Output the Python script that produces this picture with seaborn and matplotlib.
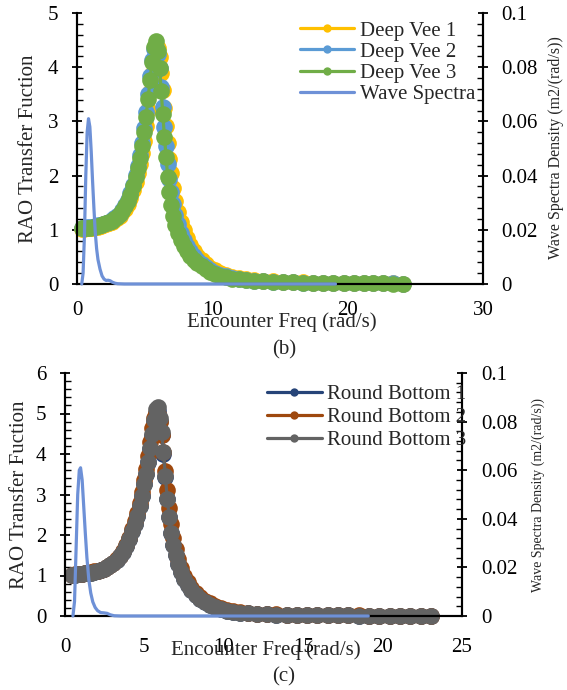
import matplotlib
matplotlib.use("Agg")
import matplotlib.pyplot as plt
from matplotlib.ticker import MultipleLocator, FuncFormatter
import seaborn as sns

# ---------------- data ----------------
# panel (b): deep vee hulls
dv_freq = [0.35, 0.55, 0.75, 0.95, 1.15, 1.35, 1.55, 1.75, 1.95, 2.15,
           2.35, 2.55, 2.75, 2.95, 3.15, 3.35, 3.55, 3.75, 3.95, 4.15,
           4.35, 4.5, 4.65, 4.8, 4.95, 5.1, 5.25, 5.4, 5.55, 5.7,
           5.85, 5.98, 6.1, 6.22, 6.34, 6.46, 6.58, 6.7, 6.82, 6.95,
           7.1, 7.27, 7.45, 7.65, 7.87, 8.1, 8.35, 8.62, 8.9, 9.2,
           9.52, 9.86, 10.22, 10.6, 11.0, 11.45, 11.95, 12.5, 13.1, 13.75,
           14.45, 15.2, 15.95, 16.7, 17.45, 18.2, 18.95, 19.7, 20.45, 21.2,
           21.9, 22.6, 23.35, 24.1]
deep_vee_1 = [1.02, 1.02, 1.03, 1.03, 1.04, 1.05, 1.06, 1.07, 1.09, 1.10,
              1.12, 1.15, 1.18, 1.22, 1.26, 1.32, 1.39, 1.48, 1.59, 1.73,
              1.89, 2.04, 2.21, 2.41, 2.64, 2.91, 3.21, 3.54, 3.87, 4.15,
              4.33, 4.35, 4.18, 3.90, 3.58, 3.25, 2.92, 2.60, 2.31, 2.04,
              1.78, 1.54, 1.33, 1.15, 0.99, 0.85, 0.72, 0.61, 0.52, 0.44,
              0.37, 0.30, 0.25, 0.20, 0.16, 0.13, 0.105, 0.085, 0.07, 0.058,
              0.048, 0.04, 0.034, 0.029, 0.025, 0.022, 0.019, 0.017, 0.015, 0.013,
              0.012, 0.011, 0.01, 0.009]
deep_vee_2 = [1.04, 1.04, 1.05, 1.05, 1.06, 1.07, 1.08, 1.09, 1.11, 1.13,
              1.15, 1.18, 1.21, 1.25, 1.30, 1.37, 1.45, 1.55, 1.67, 1.83,
              2.01, 2.18, 2.38, 2.61, 2.87, 3.17, 3.50, 3.84, 4.13, 4.33,
              4.38, 4.24, 3.98, 3.64, 3.26, 2.89, 2.54, 2.22, 1.94, 1.69,
              1.47, 1.27, 1.10, 0.95, 0.82, 0.70, 0.60, 0.51, 0.44, 0.37,
              0.31, 0.26, 0.21, 0.17, 0.14, 0.11, 0.09, 0.075, 0.062, 0.051,
              0.043, 0.036, 0.031, 0.027, 0.023, 0.02, 0.018, 0.016, 0.014, 0.013,
              0.012, 0.011, 0.01, 0.009]
deep_vee_3 = [1.03, 1.03, 1.04, 1.04, 1.05, 1.06, 1.07, 1.08, 1.10, 1.12,
              1.14, 1.17, 1.20, 1.24, 1.29, 1.35, 1.43, 1.53, 1.65, 1.80,
              1.98, 2.14, 2.33, 2.55, 2.80, 3.09, 3.42, 3.77, 4.10, 4.37,
              4.48, 4.30, 3.98, 3.57, 3.13, 2.72, 2.35, 1.98, 1.70, 1.46,
              1.26, 1.09, 0.95, 0.82, 0.71, 0.61, 0.52, 0.45, 0.38, 0.33,
              0.28, 0.23, 0.19, 0.15, 0.12, 0.10, 0.085, 0.07, 0.058, 0.048,
              0.04, 0.034, 0.029, 0.025, 0.022, 0.019, 0.017, 0.015, 0.013, 0.012,
              0.011, 0.01, 0.009, 0.008]
wave_freq_b = [0.35, 0.45, 0.55, 0.65, 0.75, 0.85, 0.95, 1.05, 1.15, 1.25,
               1.35, 1.45, 1.55, 1.7, 1.85, 2.0, 2.15, 2.3, 2.45, 2.6,
               2.8, 3.0, 3.5, 19.1]
wave_spec_b = [0.0, 0.004, 0.018, 0.040, 0.056, 0.061, 0.058, 0.049, 0.038, 0.028,
               0.019, 0.013, 0.009, 0.0055, 0.003, 0.0018, 0.0013, 0.0014, 0.0012, 0.0007,
               0.0003, 0.0001, 0.0, 0.0]

# panel (c): round bottom hulls
rb_freq = [0.45, 0.65, 0.85, 1.05, 1.25, 1.45, 1.65, 1.85, 2.05, 2.25,
           2.45, 2.65, 2.85, 3.05, 3.25, 3.45, 3.65, 3.85, 4.05, 4.25,
           4.4, 4.55, 4.7, 4.85, 5.0, 5.12, 5.24, 5.36, 5.48, 5.6,
           5.72, 5.84, 5.96, 6.08, 6.2, 6.32, 6.44, 6.56, 6.68, 6.82,
           6.96, 7.12, 7.3, 7.5, 7.72, 7.96, 8.22, 8.5, 8.8, 9.12,
           9.46, 9.82, 10.2, 10.6, 11.05, 11.55, 12.1, 12.7, 13.3, 13.95,
           14.6, 15.25, 15.9, 16.55, 17.2, 17.85, 18.5, 19.15, 19.8, 20.45,
           21.1, 21.75, 22.4, 23.05]
round_bottom_1 = [1.02, 1.02, 1.03, 1.04, 1.05, 1.06, 1.07, 1.09, 1.11, 1.13,
                  1.16, 1.20, 1.25, 1.31, 1.38, 1.47, 1.58, 1.72, 1.89, 2.10,
                  2.28, 2.48, 2.71, 2.97, 3.25, 3.50, 3.80, 4.12, 4.45, 4.78,
                  5.02, 5.05, 4.82, 4.48, 4.00, 3.42, 2.88, 2.44, 2.05, 1.75,
                  1.50, 1.28, 1.09, 0.92, 0.77, 0.64, 0.53, 0.43, 0.35, 0.28,
                  0.22, 0.17, 0.13, 0.10, 0.08, 0.065, 0.052, 0.043, 0.036, 0.03,
                  0.026, 0.022, 0.019, 0.017, 0.015, 0.013, 0.012, 0.011, 0.01, 0.009,
                  0.008, 0.008, 0.007, 0.007]
round_bottom_2 = [1.02, 1.03, 1.03, 1.04, 1.05, 1.06, 1.08, 1.10, 1.12, 1.14,
                  1.17, 1.21, 1.26, 1.32, 1.40, 1.49, 1.61, 1.75, 1.93, 2.15,
                  2.34, 2.55, 2.79, 3.06, 3.36, 3.63, 3.95, 4.30, 4.63, 4.90,
                  5.02, 4.98, 4.80, 4.48, 4.05, 3.58, 3.10, 2.66, 2.27, 1.93,
                  1.65, 1.40, 1.19, 1.00, 0.84, 0.70, 0.58, 0.47, 0.38, 0.31,
                  0.25, 0.19, 0.15, 0.115, 0.09, 0.072, 0.058, 0.047, 0.039, 0.033,
                  0.028, 0.024, 0.021, 0.018, 0.016, 0.014, 0.013, 0.012, 0.011, 0.01,
                  0.009, 0.009, 0.008, 0.008]
round_bottom_3 = [1.02, 1.02, 1.03, 1.04, 1.05, 1.06, 1.07, 1.09, 1.11, 1.13,
                  1.16, 1.20, 1.25, 1.31, 1.38, 1.47, 1.58, 1.72, 1.89, 2.10,
                  2.28, 2.48, 2.71, 2.97, 3.25, 3.50, 3.80, 4.15, 4.50, 4.85,
                  5.12, 5.15, 4.90, 4.55, 4.05, 3.45, 2.90, 2.45, 2.05, 1.75,
                  1.50, 1.28, 1.09, 0.92, 0.77, 0.64, 0.53, 0.43, 0.35, 0.28,
                  0.22, 0.17, 0.13, 0.10, 0.08, 0.065, 0.052, 0.043, 0.036, 0.03,
                  0.026, 0.022, 0.019, 0.017, 0.015, 0.013, 0.012, 0.011, 0.01, 0.009,
                  0.008, 0.008, 0.007, 0.007]
wave_freq_c = [0.5, 0.6, 0.7, 0.8, 0.9, 0.98, 1.08, 1.18, 1.28, 1.38,
               1.5, 1.62, 1.75, 1.9, 2.05, 2.25, 2.45, 2.65, 2.85, 3.1,
               3.5, 19.1]
wave_spec_c = [0.0, 0.006, 0.028, 0.050, 0.060, 0.061, 0.056, 0.045, 0.034, 0.024,
               0.015, 0.0095, 0.0058, 0.0035, 0.0022, 0.0014, 0.0013, 0.0011, 0.0005, 0.0001,
               0.0, 0.0]

dv_names = ["Deep Vee 1", "Deep Vee 2", "Deep Vee 3"]
dv_colors = ["#FFC000", "#5B9BD5", "#70AD47"]
rb_names = ["Round Bottom 1", "Round Bottom 2", "Round Bottom 3"]
rb_colors = ["#264478", "#9E480E", "#636363"]
spec_color = "#6E91D7"

sns.set_style("white")
plt.rcParams["font.family"] = ["Liberation Serif"]
FS = 15
MS = 12


def style_axes(ax, ax2, xmax, xmaj, xmin, ymax, ymin_step, xpad, ypad):
    ax.set_xlim(0, xmax)
    ax.set_ylim(0, ymax)
    ax2.set_ylim(0, 0.1)
    ax.xaxis.set_major_locator(MultipleLocator(xmaj))
    ax.xaxis.set_minor_locator(MultipleLocator(xmin))
    ax.yaxis.set_major_locator(MultipleLocator(1))
    ax.yaxis.set_minor_locator(MultipleLocator(ymin_step))
    ax2.yaxis.set_major_locator(MultipleLocator(0.02))
    ax2.yaxis.set_minor_locator(MultipleLocator(0.004))
    ax2.yaxis.set_major_formatter(FuncFormatter(lambda v, p: "%g" % round(v, 3)))
    for a in (ax, ax2):
        for s in a.spines.values():
            s.set_linewidth(1.5)
            s.set_color("black")
        a.spines["top"].set_visible(False)
        a.tick_params(which="major", direction="inout", length=7, width=1.3,
                      labelsize=FS, colors="black")
        a.tick_params(which="minor", direction="in", length=4, width=1.0,
                      colors="black")
    ax.tick_params(axis="x", which="major", pad=xpad)
    ax.tick_params(axis="y", which="major", pad=ypad)
    ax2.tick_params(axis="y", which="major", pad=ypad)
    ax.set_xlabel("")
    ax.set_ylabel("")
    ax2.set_ylabel("")


def draw_panel(ax, freq, series, colors, wfreq, wspec):
    ax2 = ax.twinx()
    handles = []
    for ys, c in zip(series, colors):
        sns.lineplot(x=freq, y=ys, ax=ax, color=c, marker="o",
                     markeredgewidth=0, linewidth=2.3, estimator=None,
                     sort=False, clip_on=False)
        line = ax.get_lines()[-1]
        line.set_markersize(MS)
        handles.append(line)
    sns.lineplot(x=wfreq, y=wspec, ax=ax2, color=spec_color, linewidth=2.3,
                 estimator=None, sort=False, clip_on=False, zorder=3)
    handles.append(ax2.get_lines()[-1])
    return ax2, handles


fig = plt.figure(figsize=(5.67, 6.90), dpi=100)

# ---- panel (b) ----
ax_b = fig.add_axes([77 / 567, 1 - 284 / 690, 406 / 567, 271 / 690])
ax_b2, h_b = draw_panel(ax_b, dv_freq, [deep_vee_1, deep_vee_2, deep_vee_3],
                        dv_colors, wave_freq_b, wave_spec_b)
style_axes(ax_b, ax_b2, 30, 10, 2, 5, 0.2, 8.5, 10)
ax_b2.legend(h_b, dv_names + ["Wave Spectra"], loc="upper right",
             bbox_to_anchor=(0.98, 0.97), frameon=False, fontsize=FS,
             handlelength=2.6, handletextpad=0.25, labelspacing=0.07,
             borderpad=0, borderaxespad=0, markerscale=0.5)

fig.text(29 / 567, 1 - 149 / 690, "RAO Transfer Fuction", rotation=90,
         ha="center", va="center", fontsize=FS)
fig.text(556 / 567, 1 - 148 / 690, "Wave Spectra Density (m2/(rad/s))",
         rotation=90, ha="center", va="center", fontsize=11.5)
fig.text(282 / 567, 1 - 322 / 690, "Encounter Freq (rad/s)",
         ha="center", va="center", fontsize=FS)
fig.text(284 / 567, 1 - 350 / 690, "(b)", ha="center", va="center", fontsize=FS)

# ---- panel (c) ----
ax_c = fig.add_axes([65 / 567, 1 - 616 / 690, 397 / 567, 243 / 690])
ax_c2, h_c = draw_panel(ax_c, rb_freq, [round_bottom_1, round_bottom_2, round_bottom_3],
                        rb_colors, wave_freq_c, wave_spec_c)
style_axes(ax_c, ax_c2, 25, 5, 1, 6, 0.2, 12, 10)
ax_c2.legend(h_c[:3], rb_names, loc="upper right",
             bbox_to_anchor=(1.01, 0.952), frameon=False, fontsize=FS,
             handlelength=2.6, handletextpad=0.25, labelspacing=0.17,
             borderpad=0, borderaxespad=0, markerscale=0.5)

fig.text(20 / 567, 1 - 495 / 690, "RAO Transfer Fuction", rotation=90,
         ha="center", va="center", fontsize=FS)
fig.text(538 / 567, 1 - 495 / 690, "Wave Spectra Density (m2/(rad/s))",
         rotation=90, ha="center", va="center", fontsize=10)
fig.text(266 / 567, 1 - 650 / 690, "Encounter Freq (rad/s)",
         ha="center", va="center", fontsize=FS)
fig.text(284 / 567, 1 - 677 / 690, "(c)", ha="center", va="center", fontsize=FS)

fig.savefig("out.png", dpi=100)
